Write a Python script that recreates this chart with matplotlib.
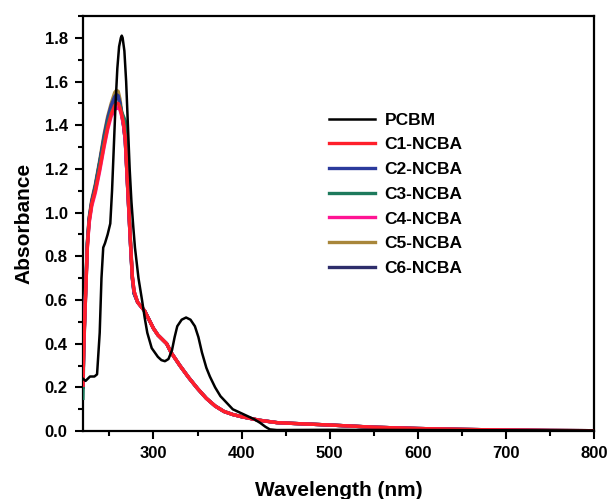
import matplotlib
matplotlib.use("Agg")
import matplotlib.pyplot as plt
from matplotlib.ticker import MultipleLocator

plt.rcParams['font.family'] = ['Liberation Sans', 'DejaVu Sans']
plt.rcParams['font.weight'] = 'bold'

# PCBM spectrum
pcbm_wl = [220, 223, 228, 233, 236, 239, 241, 243, 245, 248, 251, 253, 255, 257, 259, 261,
           263, 264, 265, 267, 269, 271, 273, 275, 277, 279, 283, 287, 290, 293, 298, 305,
           309, 313, 317, 321, 324, 327, 332, 337, 342, 347, 351, 355, 360, 364, 370, 376,
           383, 390, 398, 406, 414, 421, 427, 432, 440, 500, 600, 700, 800]
pcbm_abs = [0.24, 0.23, 0.25, 0.25, 0.26, 0.45, 0.70, 0.84, 0.86, 0.90, 0.95, 1.10, 1.30, 1.50, 1.66, 1.76,
            1.80, 1.81, 1.80, 1.74, 1.60, 1.40, 1.20, 1.05, 0.94, 0.84, 0.70, 0.60, 0.52, 0.45, 0.38, 0.34,
            0.325, 0.32, 0.33, 0.37, 0.43, 0.48, 0.51, 0.52, 0.51, 0.48, 0.43, 0.36, 0.29, 0.25, 0.20, 0.16,
            0.13, 0.10, 0.085, 0.07, 0.055, 0.038, 0.02, 0.008, 0.005, 0.006, 0.005, 0.004, 0.003]

# common wavelength grid for the NCBA series
ncba_wl = [220, 221, 223, 225, 227, 230, 234, 239, 244, 248, 252, 256, 258, 260, 262, 264,
           266, 268, 270, 272, 274, 276, 278, 282, 286, 290, 295, 300, 305, 310, 315, 320,
           330, 340, 350, 360, 370, 380, 390, 400, 420, 440, 460, 500, 550, 600, 650, 700,
           750, 800]

c1_abs = [0.21, 0.40, 0.62, 0.84, 0.96, 1.04, 1.10, 1.20, 1.31, 1.39, 1.45, 1.49, 1.50, 1.50, 1.48, 1.45,
          1.41, 1.34, 1.18, 1.02, 0.86, 0.71, 0.64, 0.59, 0.57, 0.55, 0.51, 0.47, 0.44, 0.42, 0.40, 0.36,
          0.30, 0.245, 0.195, 0.15, 0.115, 0.09, 0.076, 0.066, 0.05, 0.039, 0.035, 0.028, 0.018, 0.012, 0.008, 0.005,
          0.003, 0.002]
c2_abs = [0.20, 0.41, 0.64, 0.86, 0.97, 1.05, 1.12, 1.23, 1.35, 1.43, 1.49, 1.53, 1.54, 1.535, 1.50, 1.45,
          1.40, 1.33, 1.17, 1.01, 0.85, 0.70, 0.63, 0.59, 0.57, 0.55, 0.51, 0.47, 0.44, 0.42, 0.40, 0.36,
          0.30, 0.245, 0.195, 0.15, 0.115, 0.09, 0.076, 0.066, 0.05, 0.039, 0.035, 0.028, 0.018, 0.012, 0.008, 0.005,
          0.003, 0.002]
c3_abs = [0.15, 0.38, 0.62, 0.85, 0.96, 1.04, 1.11, 1.22, 1.33, 1.41, 1.46, 1.49, 1.50, 1.50, 1.49, 1.46,
          1.44, 1.42, 1.30, 1.05, 0.87, 0.71, 0.64, 0.59, 0.57, 0.55, 0.51, 0.47, 0.44, 0.42, 0.40, 0.36,
          0.30, 0.245, 0.195, 0.15, 0.115, 0.09, 0.076, 0.066, 0.05, 0.039, 0.035, 0.028, 0.018, 0.012, 0.008, 0.005,
          0.003, 0.002]
c4_abs = [0.21, 0.40, 0.62, 0.84, 0.95, 1.03, 1.09, 1.19, 1.30, 1.38, 1.44, 1.47, 1.48, 1.48, 1.47, 1.44,
          1.40, 1.33, 1.17, 1.01, 0.85, 0.71, 0.64, 0.59, 0.57, 0.55, 0.51, 0.47, 0.44, 0.42, 0.40, 0.36,
          0.30, 0.245, 0.195, 0.15, 0.115, 0.09, 0.076, 0.066, 0.05, 0.039, 0.035, 0.028, 0.018, 0.012, 0.008, 0.005,
          0.003, 0.002]
c5_abs = [0.20, 0.42, 0.65, 0.87, 0.98, 1.06, 1.13, 1.24, 1.36, 1.44, 1.50, 1.55, 1.56, 1.555, 1.52, 1.46,
          1.40, 1.33, 1.17, 1.01, 0.85, 0.70, 0.63, 0.59, 0.57, 0.55, 0.51, 0.47, 0.44, 0.42, 0.40, 0.36,
          0.30, 0.245, 0.195, 0.15, 0.115, 0.09, 0.076, 0.066, 0.05, 0.039, 0.035, 0.028, 0.018, 0.012, 0.008, 0.005,
          0.003, 0.002]
c6_abs = [0.20, 0.41, 0.64, 0.86, 0.97, 1.05, 1.12, 1.23, 1.34, 1.42, 1.48, 1.52, 1.53, 1.525, 1.50, 1.45,
          1.40, 1.33, 1.17, 1.01, 0.85, 0.70, 0.63, 0.59, 0.57, 0.55, 0.51, 0.47, 0.44, 0.42, 0.40, 0.36,
          0.30, 0.245, 0.195, 0.15, 0.115, 0.09, 0.076, 0.066, 0.05, 0.039, 0.035, 0.028, 0.018, 0.012, 0.008, 0.005,
          0.003, 0.002]

labels = ['C1-NCBA', 'C2-NCBA', 'C3-NCBA', 'C4-NCBA', 'C5-NCBA', 'C6-NCBA']
colors = ['#ff1f2a', '#2b3a9c', '#1d7a5c', '#ff1493', '#a8863a', '#2e2d6b']
# draw order: red ends up on top like in the original
zorders = [8, 5, 6, 7, 3, 4]
series = [c1_abs, c2_abs, c3_abs, c4_abs, c5_abs, c6_abs]

fig = plt.figure(figsize=(6.10, 4.99), dpi=100)
ax = fig.add_axes([0.136, 0.136, 0.838, 0.832])

ax.plot(pcbm_wl, pcbm_abs, color='black', lw=1.8, label='PCBM', zorder=9)
for vals, lab, col, z in zip(series, labels, colors, zorders):
    ax.plot(ncba_wl, vals, color=col, lw=2.4, label=lab, zorder=z)

ax.set_xlim(220, 800)
ax.set_ylim(0, 1.9)
ax.xaxis.set_major_locator(MultipleLocator(100))
ax.xaxis.set_minor_locator(MultipleLocator(50))
ax.yaxis.set_major_locator(MultipleLocator(0.2))
ax.yaxis.set_minor_locator(MultipleLocator(0.1))
ax.yaxis.set_major_formatter(matplotlib.ticker.FormatStrFormatter('%.1f'))

ax.tick_params(which='major', direction='out', length=6, width=1.5, labelsize=12, pad=5)
ax.tick_params(which='minor', direction='out', length=3.5, width=1.5)
for s in ax.spines.values():
    s.set_linewidth(1.6)

ax.set_xlabel('Wavelength (nm)', fontsize=15, fontweight='bold', labelpad=14)
ax.set_ylabel('Absorbance', fontsize=15, fontweight='bold', labelpad=8)

ax.legend(loc='upper left', bbox_to_anchor=(0.45, 0.805), frameon=False,
          handlelength=2.7, handletextpad=0.52, labelspacing=0.55,
          prop={'weight': 'bold', 'size': 12.5})

fig.savefig('out.png', dpi=100)
